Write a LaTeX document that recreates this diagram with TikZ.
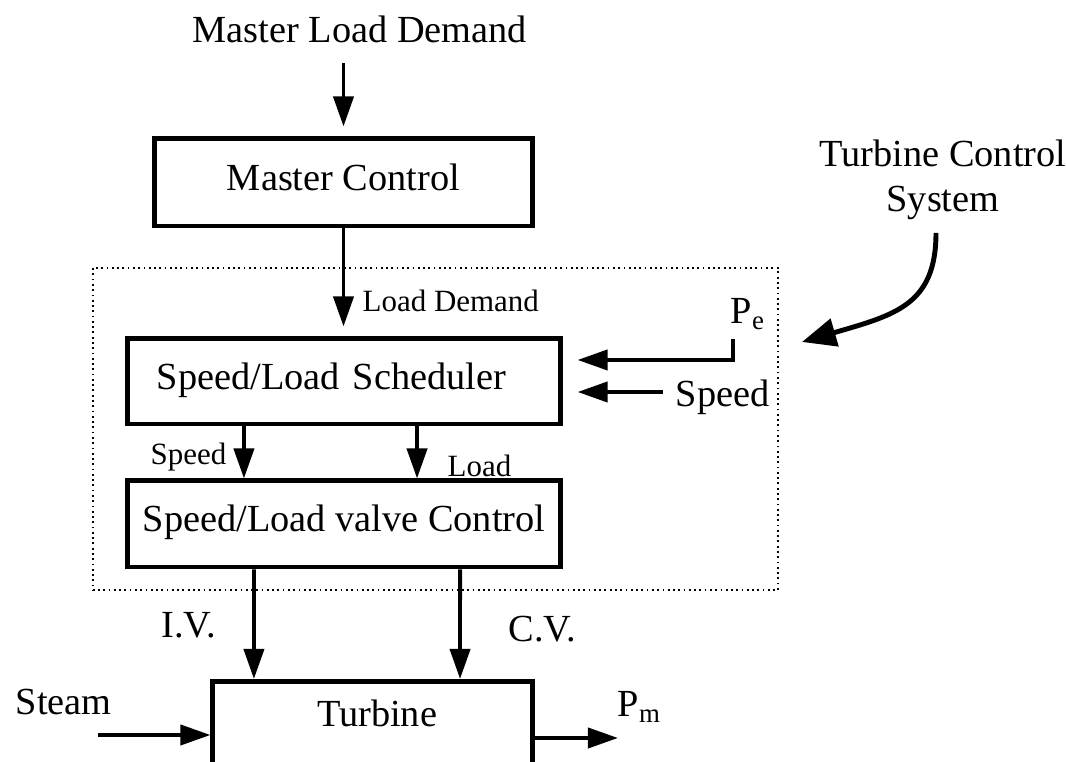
\documentclass[tikz,border=0pt]{standalone}
\usepackage{fontspec}
\setmainfont{Liberation Serif}
\usetikzlibrary{arrows.meta,positioning,calc}

\begin{document}
\begin{tikzpicture}[
  x=0.01cm, y=-0.01cm,
  font=\fontsize{10.9}{13}\selectfont,
  block/.style={draw,line width=1.4pt,text height=0.7em,text depth=0.25em},
  lbl/.style={inner sep=0pt},
  smalllbl/.style={inner sep=0pt,font=\fontsize{8.8}{10}\selectfont},
  sysframe/.style={draw,densely dotted,line width=0.5pt},
  flow/.style={->,line width=1.1pt},
  >={Triangle[length=3mm,width=2mm]}
]
\useasboundingbox (0,0) rectangle (1066,762);
\clip (0,0) rectangle (1066,762);
% the turbine control system frame
\node[sysframe,minimum width=6.85cm,minimum height=3.22cm] (sysbox) at (435.5,429) {};
% master level
\node[lbl,anchor=base] (mld) at (360,43) {Master Load Demand};
\node[block,minimum width=3.77cm,minimum height=0.87cm] (mc) at (343.5,182.5) {Master Control};
\draw[flow,shorten <=0.19cm,shorten >=0.1cm] (mld.south -| mc.north) -- (mc.north);
% scheduler and valve control
\node[block,text width=3.74cm,inner xsep=0.29cm,align=left,minimum height=0.85cm] (sch) at (344,381.5) {Speed/Load Scheduler};
\node[block,minimum width=4.32cm,minimum height=0.86cm] (valve) at (344,524) {Speed/Load valve Control};
\draw[flow,shorten >=0.1cm] (mc.south) -- (mc.south |- sch.north);
\node[smalllbl,anchor=base west] (ldlbl) at (362,312) {Load Demand};
\draw[flow] ([xshift=-1cm]sch.south) -- ([xshift=-1cm]valve.north);
\draw[flow] ([xshift=0.73cm]sch.south) -- ([xshift=0.73cm]valve.north);
\node[smalllbl,anchor=base east] (spdlbl) at (227,465) {Speed};
\node[smalllbl,anchor=base west] (loadlbl) at (447,477) {Load};
% inputs on the right
\node[lbl,anchor=base west] (pe) at (730,324) {P\textsubscript{e}};
\coordinate (pefoot) at (733,339);
\draw[flow,shorten >=0.15cm] (pefoot) |- ([yshift=0.215cm]sch.east);
\node[lbl,anchor=base west] (spdin) at (675,407) {Speed};
\coordinate (spdsrc) at (663,392);
\draw[flow,shorten >=0.15cm] (spdsrc) -- (spdsrc -| sch.east);
% system callout
\node[lbl,align=center,anchor=north] (tcs) at (943,139) {Turbine Control\\System};
\coordinate (tcstip) at (802,342);
\draw[line width=1.4pt,-{Triangle[length=3.4mm,width=2.8mm]},shorten <=0.12cm]
  ([xshift=-0.07cm]tcs.south) .. controls (936,305) and (895,315) .. (tcstip);
% turbine
\node[block,minimum width=3.19cm,minimum height=1.3cm,anchor=north] (turb) at (372.5,679) {};
\node[lbl,anchor=base] (turblbl) at (377,727) {Turbine};
\draw[flow] ([xshift=-0.9cm]valve.south) -- ([xshift=-1.185cm]turb.north);
\draw[flow] ([xshift=1.16cm]valve.south) -- ([xshift=0.875cm]turb.north);
\node[lbl,anchor=base east] (ivlbl) at (217,638) {I.V.};
\node[lbl,anchor=base west] (cvlbl) at (508,642) {C.V.};
\node[lbl,anchor=base west] (steam) at (15,715) {Steam};
\coordinate (steamsrc) at (98,735);
\draw[flow] (steamsrc) -- (steamsrc -| turb.west);
\node[lbl,anchor=base west] (pm) at (617,717) {P\textsubscript{m}};
\coordinate (pmtip) at (618,738);
\draw[flow] (pmtip -| turb.east) -- (pmtip);
\end{tikzpicture}
\end{document}
